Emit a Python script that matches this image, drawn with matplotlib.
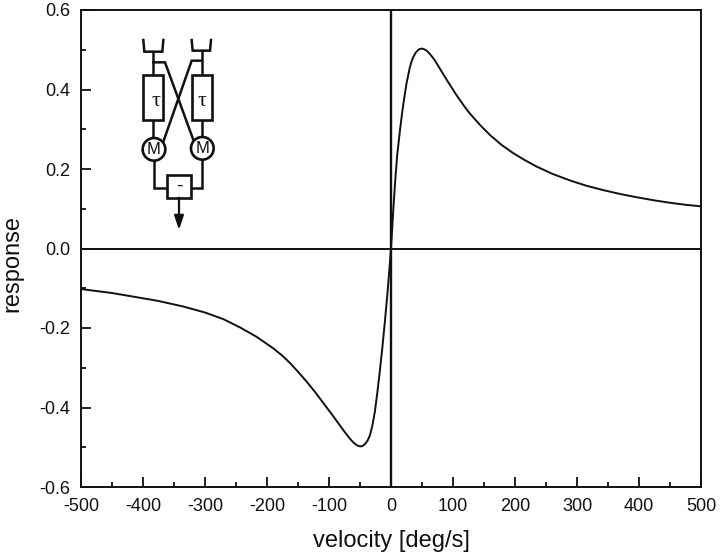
#!/usr/bin/env python3
# -*- coding: utf-8 -*-
"""
velocity tuning curve of a correlation detector, with the detector sketch as inset
"""
import matplotlib
matplotlib.use('Agg')
import matplotlib.pyplot as plt
from matplotlib.patches import Circle, Rectangle

plt.rcParams['font.family'] = ['Liberation Sans', 'DejaVu Sans']
plt.rcParams['axes.unicode_minus'] = False

# values
velocity_neg = [-500, -450, -416, -375, -335, -300, -270, -243, -217, -190, -175, -163, -150, -136,
                -122, -109, -95, -82, -74, -66, -60, -55, -50, -46, -42, -38, -34, -30, -26, -22,
                -18, -14, -10, -6, -3]
response_neg = [-0.102, -0.112, -0.121, -0.132, -0.146, -0.161, -0.178, -0.199, -0.222, -0.251,
                -0.270, -0.288, -0.310, -0.335, -0.362, -0.389, -0.418, -0.446, -0.463, -0.479,
                -0.489, -0.495, -0.498, -0.497, -0.492, -0.484, -0.470, -0.445, -0.410, -0.362,
                -0.308, -0.250, -0.186, -0.118, -0.060]
velocity_pos = [0, 2, 4, 7, 10, 14.5, 18, 21, 25, 30, 33, 36, 40, 45, 49.5, 54, 58, 63, 70, 79, 90,
                106, 120, 127, 143.5, 160, 178, 197, 215, 235, 260, 289, 315, 342, 370, 396, 425,
                450, 475, 500]
response_pos = [0.0, 0.052, 0.105, 0.175, 0.235, 0.298, 0.342, 0.375, 0.415, 0.453, 0.470, 0.482,
                0.493, 0.501, 0.503, 0.501, 0.497, 0.489, 0.475, 0.452, 0.424, 0.385, 0.354, 0.340,
                0.311, 0.285, 0.261, 0.240, 0.223, 0.206, 0.188, 0.171, 0.158, 0.147, 0.137, 0.129,
                0.121, 0.115, 0.110, 0.106]

x_major = [-500, -400, -300, -200, -100, 0, 100, 200, 300, 400, 500]
x_minor = [-450, -350, -250, -150, -50, 50, 150, 250, 350, 450]
y_major = [-0.6, -0.4, -0.2, 0.0, 0.2, 0.4, 0.6]
y_minor = [-0.5, -0.3, -0.1, 0.1, 0.3, 0.5]

dark = '#111111'

fig = plt.figure(figsize=(7.2, 5.57), dpi=100)
ax = fig.add_axes([81 / 720, 1 - 487 / 557, 620 / 720, 477 / 557])

ax.plot(velocity_neg + velocity_pos, response_neg + response_pos, color=dark, lw=1.4)
ax.axhline(0, color=dark, lw=1.4)
ax.axvline(0, color=dark, lw=1.7)

ax.set_xlim(-500, 500)
ax.set_ylim(-0.6, 0.6)
ax.set_xticks(x_major)
ax.set_xticks(x_minor, minor=True)
ax.set_yticks(y_major)
ax.set_yticks(y_minor, minor=True)
ax.set_yticklabels([f'{v:.1f}' for v in y_major])
ax.tick_params(which='major', direction='in', length=7, width=1.3, labelsize=13, color=dark,
               labelcolor=dark, pad=8)
ax.tick_params(which='minor', direction='in', length=3.6, width=1.3, color=dark)
for s in ax.spines.values():
    s.set_linewidth(1.4)
    s.set_color(dark)

ax.set_xlabel('velocity [deg/s]', fontsize=17, color=dark)
ax.set_ylabel('response', fontsize=17, color=dark)
ax.xaxis.set_label_coords(0.5, -0.09)
ax.yaxis.set_label_coords(-0.0935, 0.4676)

# inset sketch, drawn in pixels of the zoomed crop (3x, origin at 120,30)
ins = fig.add_axes([120 / 720, 1 - 240 / 557, 110 / 720, 210 / 557])
ins.set_xlim(0, 330)
ins.set_ylim(630, 0)
ins.axis('off')
ins.patch.set_alpha(0)

paths = [
    ([70, 73, 127, 130], [30, 65, 65, 30]),
    ([215, 218, 270, 273], [30, 62, 62, 30]),
    ([100, 100], [65, 135]),
    ([245, 245], [62, 135]),
    ([100, 100], [270, 325]),
    ([245, 245], [270, 322]),
    ([100, 135, 222], [97, 97, 335]),
    ([245, 215, 130], [92, 92, 335]),
    ([103, 103, 140], [392, 475, 475]),
    ([213, 247, 247], [475, 475, 388]),
]
for px, py in paths:
    ins.plot(px, py, color=dark, lw=1.8, solid_joinstyle='miter')
for bx, by, bw, bh in [(70, 135, 60, 135), (215, 135, 60, 135), (140, 435, 73, 68)]:
    ins.add_patch(Rectangle((bx, by), bw, bh, fc='white', ec=dark, lw=1.9, zorder=3))
for cx, cy in [(102, 358), (247, 355)]:
    ins.add_patch(Circle((cx, cy), 34, fc='white', ec=dark, lw=1.9, zorder=3))
    ins.text(cx, cy + 1, 'M', ha='center', va='center', fontsize=12, color=dark, zorder=4)
ins.text(107, 215, 'τ', ha='center', va='center', fontsize=16, color=dark, zorder=4,
         family=['Liberation Serif', 'DejaVu Serif'])
ins.text(245, 213, 'τ', ha='center', va='center', fontsize=16, color=dark, zorder=4,
         family=['Liberation Serif', 'DejaVu Serif'])
ins.text(177, 468, '-', ha='center', va='center', fontsize=14, color=dark, zorder=4)
ins.annotate('', xy=(177, 600), xytext=(177, 503),
             arrowprops=dict(arrowstyle='-|>,head_length=0.6,head_width=0.2', color=dark, lw=1.6,
                             mutation_scale=14, shrinkA=0, shrinkB=0))

plt.savefig('out.png', dpi=100)
plt.close()
